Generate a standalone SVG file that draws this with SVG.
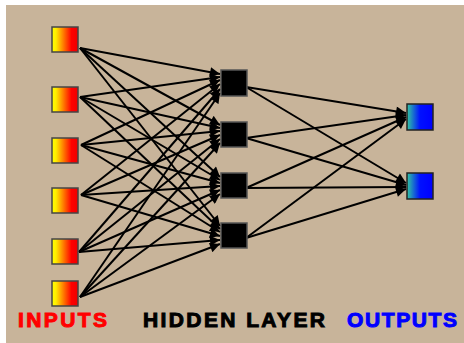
<svg xmlns="http://www.w3.org/2000/svg" width="464" height="343" viewBox="0 0 464 343">
<defs>
<linearGradient id="gin" x1="0" y1="0" x2="1" y2="0">
<stop offset="0" stop-color="#ffff00"/><stop offset="0.15" stop-color="#ffee00"/><stop offset="0.75" stop-color="#ff0000"/><stop offset="1" stop-color="#ee0000"/>
</linearGradient>
<linearGradient id="gout" x1="0" y1="0" x2="1" y2="0">
<stop offset="0" stop-color="#30c8a0"/><stop offset="0.5" stop-color="#0010ff"/><stop offset="1" stop-color="#0000ff"/>
</linearGradient>
<marker id="ah" viewBox="0 0 10 10" refX="10" refY="5" markerWidth="5.5" markerHeight="5" orient="auto" markerUnits="strokeWidth">
<path d="M0,0 L10,5 L0,10 z" fill="#000"/>
</marker>
</defs>
<style>
.bg{fill:#c8b49a}
.in{fill:url(#gin);stroke:#454545;stroke-width:1.5}
.hid{fill:#000;stroke:#555;stroke-width:1.5}
.out{fill:url(#gout);stroke:#222;stroke-width:1.5}
.c line{stroke:#000;stroke-width:2;marker-end:url(#ah)}
.lbl{font-family:"Liberation Sans",Arial,sans-serif;font-weight:bold;font-size:21px;stroke-width:1}
</style>
<rect x="0" y="0" width="464" height="343" fill="#ffffff"/>
<rect class="bg" x="6" y="5" width="458" height="338"/>
<g class="c" id="connectors">
<line x1="80" y1="48" x2="220" y2="74"/>
<line x1="80" y1="48" x2="220" y2="125"/>
<line x1="80" y1="48" x2="220" y2="177"/>
<line x1="80" y1="48" x2="220" y2="226"/>
<line x1="80" y1="97" x2="220" y2="77"/>
<line x1="80" y1="97" x2="220" y2="128"/>
<line x1="80" y1="97" x2="220" y2="180"/>
<line x1="80" y1="97" x2="220" y2="229"/>
<line x1="81" y1="145" x2="220" y2="80"/>
<line x1="81" y1="145" x2="220" y2="131"/>
<line x1="81" y1="145" x2="220" y2="183"/>
<line x1="81" y1="145" x2="220" y2="232"/>
<line x1="81" y1="195" x2="220" y2="84"/>
<line x1="81" y1="195" x2="220" y2="135"/>
<line x1="81" y1="195" x2="220" y2="186"/>
<line x1="81" y1="195" x2="220" y2="236"/>
<line x1="79" y1="252" x2="220" y2="89"/>
<line x1="79" y1="252" x2="220" y2="139"/>
<line x1="79" y1="252" x2="220" y2="190"/>
<line x1="79" y1="252" x2="220" y2="240"/>
<line x1="80" y1="297" x2="220" y2="93"/>
<line x1="80" y1="297" x2="220" y2="143"/>
<line x1="80" y1="297" x2="220" y2="194"/>
<line x1="80" y1="297" x2="220" y2="244"/>
<line x1="246" y1="87" x2="406" y2="113"/>
<line x1="246" y1="87" x2="406" y2="183"/>
<line x1="246" y1="138" x2="406" y2="115"/>
<line x1="246" y1="138" x2="406" y2="185"/>
<line x1="246" y1="188" x2="406" y2="117"/>
<line x1="246" y1="188" x2="406" y2="187"/>
<line x1="246" y1="238" x2="406" y2="119"/>
<line x1="246" y1="238" x2="406" y2="189"/>
</g>
<g id="in1"><rect class="in" x="52" y="27" width="26" height="25"/></g>
<g id="in2"><rect class="in" x="52" y="87" width="26" height="25"/></g>
<g id="in3"><rect class="in" x="52" y="138" width="26" height="25"/></g>
<g id="in4"><rect class="in" x="52" y="188" width="26" height="25"/></g>
<g id="in5"><rect class="in" x="52" y="239" width="26" height="25"/></g>
<g id="in6"><rect class="in" x="52" y="281" width="26" height="25"/></g>
<g id="h1"><rect class="hid" x="221" y="70" width="26" height="26"/></g>
<g id="h2"><rect class="hid" x="221" y="122" width="26" height="25"/></g>
<g id="h3"><rect class="hid" x="221" y="173" width="26" height="25"/></g>
<g id="h4"><rect class="hid" x="221" y="223" width="26" height="25"/></g>
<g id="o1"><rect class="out" x="407" y="104" width="26" height="26"/></g>
<g id="o2"><rect class="out" x="407" y="173" width="26" height="26"/></g>
<g id="labels">
<text class="lbl" x="18" y="327" fill="#ff0000" stroke="#ff0000" textLength="89" lengthAdjust="spacing">INPUTS</text>
<text class="lbl" x="143" y="327" fill="#000" stroke="#000" textLength="182" lengthAdjust="spacing">HIDDEN LAYER</text>
<text class="lbl" x="347" y="327" fill="#0000ff" stroke="#0000ff" textLength="110" lengthAdjust="spacing">OUTPUTS</text>
</g>
</svg>
